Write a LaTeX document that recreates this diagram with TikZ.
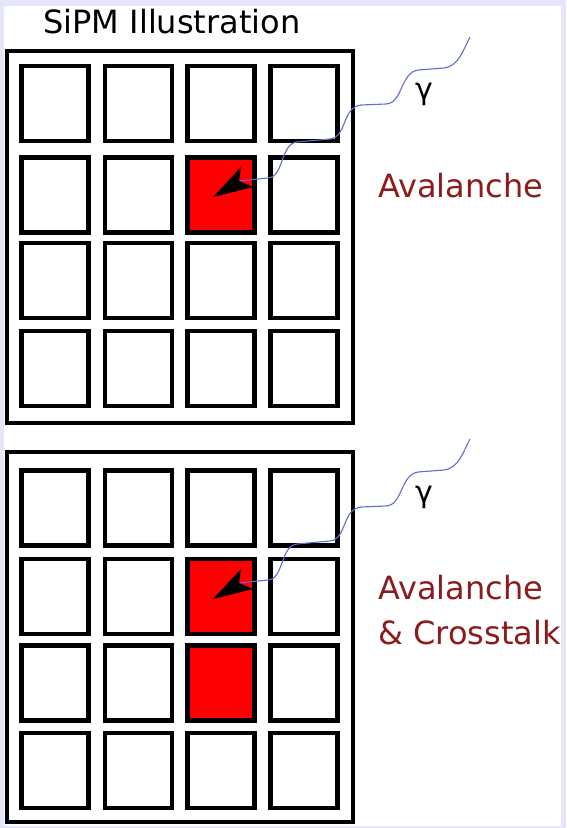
\documentclass[tikz,border=0pt]{standalone}
\usepackage{fontspec}
\setmainfont{DejaVu Sans}
\definecolor{frame}{RGB}{230,230,250}
\definecolor{txtred}{RGB}{140,28,28}
\definecolor{photon}{RGB}{95,110,205}
\begin{document}
\begin{tikzpicture}[x=1pt,y=-1pt,
  cell/.style={draw=black, line width=4.3pt, fill=white, minimum width=67pt, minimum height=75pt, inner sep=0pt, outer sep=0pt},
  hot/.style={cell, fill=red},
  outerbox/.style={draw=black, line width=4.3pt, minimum width=346pt, inner sep=0pt, outer sep=0pt},
  lbl/.style={text=txtred, font=\fontsize{32}{36}\selectfont, inner sep=0pt, anchor=base west},
  gam/.style={font=\fontsize{30}{34}\selectfont, inner sep=0pt},
  wave/.style={draw=photon, line width=1.1pt},
]
% background and frame
\fill[frame] (0,0) rectangle (566,828);
\fill[white] (4,6) rectangle (561,826);
\useasboundingbox (0,0) rectangle (566,828);

% title
\node[font=\fontsize{32}{36}\selectfont, inner sep=0pt, anchor=base] (title) at (172,33) {SiPM Illustration};

% outer boxes
\node[outerbox, minimum height=372pt] (P1) at (180,237) {};
\node[outerbox, minimum height=370pt] (P2) at (180,637) {};

% top panel cells
\foreach \c/\x in {1/55,2/138.5,3/221,4/304}{
  \foreach \r/\y in {1/103.5,2/195,3/280.5,4/368.5}{
    \node[cell] (t\r\c) at (\x,\y) {};
  }
}
\node[hot] (t23) at (221,195) {};

% bottom panel cells
\foreach \c/\x in {1/55,2/138.5,3/221,4/304}{
  \foreach \r/\y in {1/508,2/596.5,3/683,4/770.5}{
    \node[cell] (b\r\c) at (\x,\y) {};
  }
}
\node[hot] (b23) at (221,596.5) {};
\node[hot] (b33) at (221,683) {};

% photons
\foreach \dy/\nm in {0/top,402/bot}{
  \begin{scope}[shift={(0,\dy)}]
    \coordinate (\nm start) at (470,37);
    \coordinate (\nm notch) at (239,181);
    \draw[wave] (\nm notch) -- (268,178)
      .. controls (284,177) and (280,144) .. (297,142) -- (330,139)
      .. controls (347,137) and (342,107) .. (361,105) -- (386,104)
      .. controls (403,103) and (400,73) .. (418,70) -- (444,68)
      .. controls (459,66) and (463,50) .. (\nm start);
    \fill[black] (\nm notch) -- (241,167) -- (213,197) -- (253,187) -- cycle;
  \end{scope}
}

% labels
\node[gam] (g1) at (424,94) {γ};
\node[gam] (g2) at (424,497) {γ};
\node[lbl] (a1) at (378,197) {Avalanche};
\node[lbl] (a2) at (378,599) {Avalanche};
\node[lbl] (a3) at (378,644) {\& Crosstalk};
\end{tikzpicture}
\end{document}
